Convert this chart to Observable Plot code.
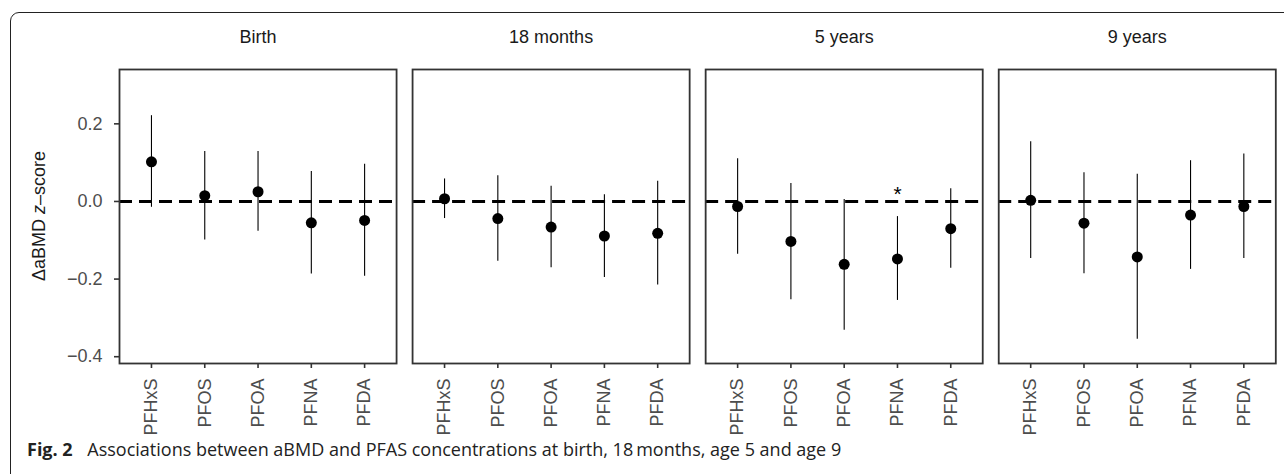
<!DOCTYPE html>
<html>
<head>
<meta charset="utf-8">
<script src="https://cdn.jsdelivr.net/npm/d3@7"></script>
<script src="https://cdn.jsdelivr.net/npm/@observablehq/plot@0.6"></script>
<style>
  html, body { margin: 0; padding: 0; background: #fff; }
  #wrap { position: relative; width: 1284px; height: 474px; overflow: hidden; }
  #border { position: absolute; left: 10px; top: 12px; width: 1300px; height: 500px;
            border: 1.2px solid #222; border-radius: 9px; box-sizing: border-box; }
  #chart { position: absolute; left: 0; top: 0; }
  #ylabel { position: absolute; left: 39px; top: 216px; transform: translate(-50%, -50%) rotate(-90deg);
            white-space: nowrap; font-family: "Liberation Sans", Arial, sans-serif; font-size: 18px; color: #1a1a1a; }
  #caption { position: absolute; left: 27px; top: 437px; white-space: nowrap;
             font-family: "Open Sans", "Noto Sans", sans-serif; font-size: 18px; color: #222; }
  #caption b { font-weight: 700; margin-right: 10px; }
</style>
</head>
<body>
<div id="wrap">
  <div id="border"></div>
  <div id="chart"></div>
  <div id="ylabel">ΔaBMD <i>z</i>–score</div>
  <div id="caption"><b>Fig. 2</b> Associations between aBMD and PFAS concentrations at birth, 18&#8201;months, age 5 and age 9</div>
</div>
<script>
// Categories and facets
const categories = ["PFHxS", "PFOS", "PFOA", "PFNA", "PFDA"];
const periods = ["Birth", "18 months", "5 years", "9 years"];
const yTicks = [-0.4, -0.2, 0.0, 0.2];

// Estimates and 95% CI per period (order follows categories)
const birthEst  = [0.102, 0.015, 0.025, -0.055, -0.049];
const birthLow  = [-0.015, -0.099, -0.077, -0.187, -0.193];
const birthHigh = [0.221, 0.129, 0.129, 0.077, 0.096];

const m18Est  = [0.007, -0.044, -0.066, -0.089, -0.082];
const m18Low  = [-0.044, -0.154, -0.171, -0.196, -0.215];
const m18High = [0.058, 0.066, 0.039, 0.017, 0.052];

const y5Est  = [-0.013, -0.103, -0.162, -0.148, -0.070];
const y5Low  = [-0.136, -0.253, -0.332, -0.255, -0.172];
const y5High = [0.110, 0.046, 0.005, -0.039, 0.033];

const y9Est  = [0.003, -0.056, -0.143, -0.035, -0.013];
const y9Low  = [-0.147, -0.186, -0.355, -0.175, -0.147];
const y9High = [0.154, 0.074, 0.070, 0.105, 0.122];

// Significance marker
const starPeriod = ["5 years"];
const starCategory = ["PFNA"];
const starY = [0.03];

const ests = [birthEst, m18Est, y5Est, y9Est];
const lows = [birthLow, m18Low, y5Low, y9Low];
const highs = [birthHigh, m18High, y5High, y9High];

const rows = [];
periods.forEach((p, i) => categories.forEach((c, j) => rows.push({
  period: p, cat: c, est: ests[i][j], lo: lows[i][j], hi: highs[i][j]
})));
const stars = starPeriod.map((p, i) => ({period: p, cat: starCategory[i], y: starY[i]}));

const chart = Plot.plot({
  width: 1284,
  height: 440,
  marginLeft: 119,
  marginRight: 8.7,
  marginTop: 69,
  marginBottom: 77,
  style: {fontFamily: "'Liberation Sans', Arial, sans-serif", fontSize: "18px", background: "transparent", overflow: "visible"},
  fx: {domain: periods, axis: null, paddingInner: 0.0546, paddingOuter: 0, round: false, label: null},
  x: {domain: categories, padding: 0.6, round: false, label: null},
  y: {domain: [-0.4175, 0.34], label: null},
  marks: [
    Plot.ruleY([0], {stroke: "#000", strokeWidth: 3, strokeDasharray: "13,7"}),
    Plot.ruleX(rows, {fx: "period", x: "cat", y1: "lo", y2: "hi", stroke: "#000", strokeWidth: 1.1}),
    Plot.dot(rows, {fx: "period", x: "cat", y: "est", r: 5.5, fill: "#000", stroke: "none"}),
    Plot.text(stars, {fx: "period", x: "cat", y: "y", text: () => "*", fontSize: 21, dy: 4, fill: "#000"}),
    Plot.text(periods, {fx: d => d, text: d => d, frameAnchor: "top", dy: -39, fill: "#1a1a1a", fontSize: 18}),
    Plot.frame({stroke: "#333", strokeWidth: 1.8}),
    Plot.axisY({ticks: yTicks, tickFormat: d3.format(".1f"), tickSize: 5, tickPadding: 12,
                stroke: "#333", strokeWidth: 1.6, fill: "#4d4d4d", fontSize: 18, label: null}),
    Plot.axisX({tickRotate: -90, tickSize: 5, tickPadding: 10, stroke: "#333", strokeWidth: 1.6,
                fill: "#4d4d4d", fontSize: 18, label: null})
  ]
});
document.getElementById("chart").appendChild(chart);
</script>
</body>
</html>
